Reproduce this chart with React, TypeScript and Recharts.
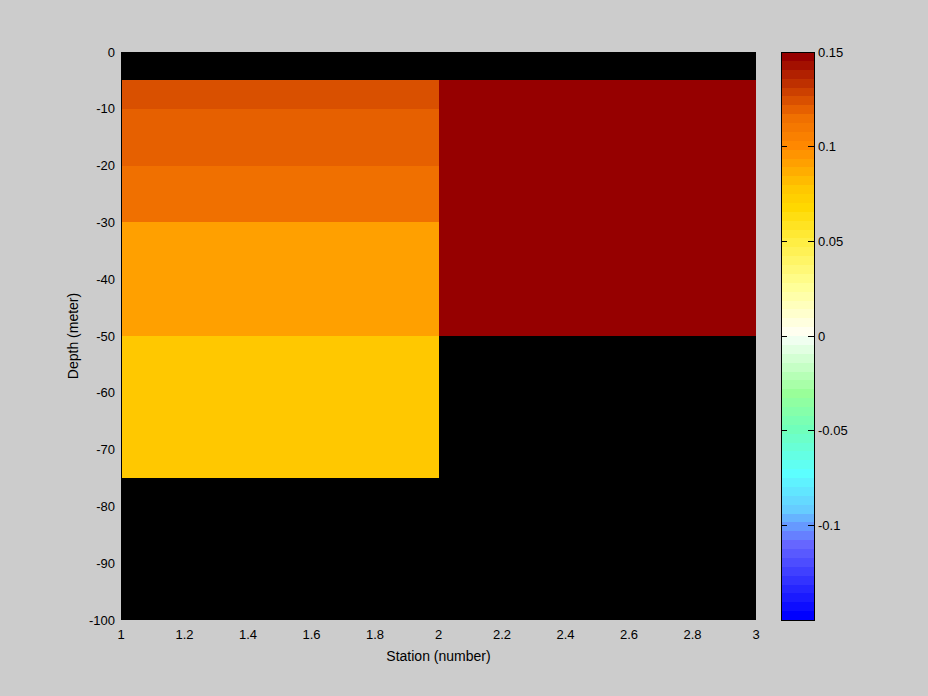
import React from "react";
import {
  ComposedChart,
  ReferenceArea,
  ReferenceLine,
  XAxis,
  YAxis,
} from "recharts";

// station and depth cell edges
const stationEdges = [1, 2, 3];
const depthEdges = [0, -5, -10, -20, -30, -50, -75, -100];

// one value per depth cell, null = no data (drawn black)
const station1Values = [null, 0.124, 0.12, 0.115, 0.092, 0.078, null];
const station2Values = [null, 0.15, 0.15, 0.15, 0.15, null, null];

const xTicks = [1, 1.2, 1.4, 1.6, 1.8, 2, 2.2, 2.4, 2.6, 2.8, 3];
const yTicks = [0, -10, -20, -30, -40, -50, -60, -70, -80, -90, -100];
const colorTicks = [-0.1, -0.05, 0, 0.05, 0.1, 0.15];
const colorLimits = [-0.15, 0.15];
const levels = 64;

// colormap anchors (level index -> colour)
const anchors: [number, string][] = [
  [0, "#0000ff"],
  [8, "#6666ff"],
  [10, "#6699ff"],
  [12, "#66ccff"],
  [16, "#5cffff"],
  [21, "#70ffbb"],
  [25, "#99ff99"],
  [31, "#f0fff0"],
  [32, "#fffff0"],
  [37, "#ffff99"],
  [42, "#ffee44"],
  [46, "#ffd800"],
  [48, "#ffc800"],
  [51, "#ffa000"],
  [53, "#ff8800"],
  [56, "#f07000"],
  [57, "#e66000"],
  [58, "#d95000"],
  [63, "#960000"],
];

const hex = (c: string) => [1, 3, 5].map((i) => parseInt(c.slice(i, i + 2), 16));

function levelColor(i: number) {
  for (let k = 0; k < anchors.length - 1; k++) {
    const [i0, c0] = anchors[k];
    const [i1, c1] = anchors[k + 1];
    if (i >= i0 && i <= i1) {
      const t = i1 === i0 ? 0 : (i - i0) / (i1 - i0);
      const a = hex(c0);
      const b = hex(c1);
      const m = a.map((v, j) => Math.round(v + (b[j] - v) * t));
      return `rgb(${m[0]},${m[1]},${m[2]})`;
    }
  }
  return anchors[anchors.length - 1][1];
}

const colormap = Array.from({ length: levels }, (_, i) => levelColor(i));
const step = (colorLimits[1] - colorLimits[0]) / levels;

function valueColor(v: number) {
  let i = Math.floor((v - colorLimits[0]) / step + 1e-9);
  i = Math.max(0, Math.min(levels - 1, i));
  return colormap[i];
}

const tickStyle = { fill: "#000", fontSize: 13 };

export default function App() {
  const columns = [station1Values, station2Values];
  return (
    <div
      style={{
        position: "absolute",
        left: 0,
        top: 0,
        width: 928,
        height: 696,
        background: "#cccccc",
        fontFamily: "'Liberation Sans', Arial, sans-serif",
        shapeRendering: "crispEdges",
      }}
    >
      <div style={{ position: "absolute", left: 0, top: 0 }}>
        <ComposedChart
          width={928}
          height={696}
          margin={{ top: 52, right: 172, bottom: 4, left: 25 }}
        >
          <XAxis
            type="number"
            dataKey="x"
            domain={[1, 3]}
            ticks={xTicks}
            allowDataOverflow
            tickLine={false}
            axisLine={false}
            tickSize={0}
            tickMargin={10}
            height={72}
            tick={tickStyle}
            interval={0}
            label={{ value: "Station (number)", position: "center", fill: "#000", fontSize: 14 }}
          />
          <YAxis
            type="number"
            domain={[-100, 0]}
            ticks={yTicks}
            allowDataOverflow
            tickLine={false}
            axisLine={{ stroke: "#000" }}
            tickSize={0}
            tickMargin={6}
            width={96}
            tick={tickStyle}
            interval={0}
            label={{ value: "Depth (meter)", angle: -90, position: "center", fill: "#000", fontSize: 14 }}
          />
          <ReferenceArea
            x1={stationEdges[0]}
            x2={stationEdges[stationEdges.length - 1]}
            y1={depthEdges[depthEdges.length - 1]}
            y2={depthEdges[0]}
            fill="#000"
            fillOpacity={1}
            stroke="none"
          />
          {columns.map((col, c) =>
            col.map((v, r) =>
              v === null ? null : (
                <ReferenceArea
                  key={`${c}-${r}`}
                  x1={stationEdges[c]}
                  x2={stationEdges[c + 1]}
                  y1={depthEdges[r + 1]}
                  y2={depthEdges[r]}
                  fill={valueColor(v)}
                  fillOpacity={1}
                  stroke="none"
                />
              )
            )
          )}
        </ComposedChart>
      </div>
      <div style={{ position: "absolute", left: 781, top: 0 }}>
        <ComposedChart
          width={100}
          height={696}
          margin={{ top: 52, right: 17, bottom: 76, left: 0 }}
        >
          <XAxis
            type="number"
            dataKey="x"
            domain={[0, 1]}
            allowDataOverflow
            height={0}
            tick={false}
            tickLine={false}
            axisLine={false}
          />
          <YAxis
            type="number"
            orientation="right"
            domain={colorLimits}
            ticks={colorTicks}
            allowDataOverflow
            tickLine={false}
            axisLine={false}
            tickSize={0}
            tickMargin={4}
            width={50}
            tick={tickStyle}
            interval={0}
          />
          {colormap.map((c, i) => (
            <ReferenceArea
              key={i}
              x1={0}
              x2={1}
              y1={colorLimits[0] + i * step}
              y2={Math.min(colorLimits[1], colorLimits[0] + (i + 1) * step)}
              fill={c}
              fillOpacity={1}
              stroke="none"
              ifOverflow="visible"
            />
          ))}
          {colorTicks.map((t) => (
            <ReferenceLine
              key={`l${t}`}
              segment={[{ x: 0, y: t }, { x: 0.18, y: t }]}
              stroke="#000"
              ifOverflow="visible"
            />
          ))}
          {colorTicks.map((t) => (
            <ReferenceLine
              key={`r${t}`}
              segment={[{ x: 0.82, y: t }, { x: 1, y: t }]}
              stroke="#000"
              ifOverflow="visible"
            />
          ))}
          <ReferenceArea
            x1={0}
            x2={1}
            y1={colorLimits[0]}
            y2={colorLimits[1]}
            fill="none"
            stroke="#000"
            ifOverflow="visible"
          />
        </ComposedChart>
      </div>
    </div>
  );
}
